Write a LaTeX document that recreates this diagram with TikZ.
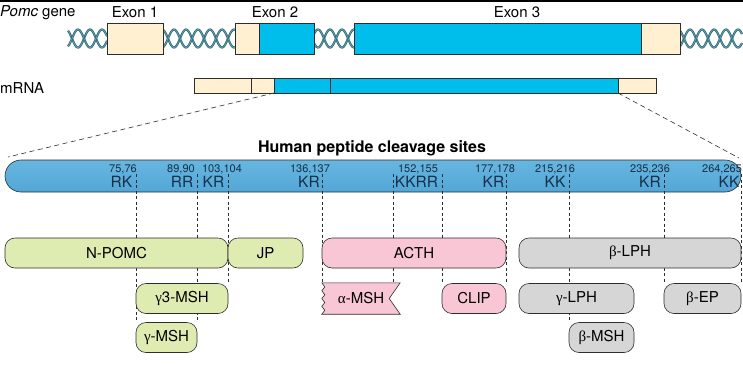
\documentclass[tikz,border=0pt]{standalone}
\usepackage{fontspec}
\setmainfont{TeX Gyre Heros}
\newfontfamily\grk{Liberation Serif}
\usepackage{xcolor}
\usetikzlibrary{positioning,calc}

\definecolor{cream}{RGB}{254,240,208}
\definecolor{exonblue}{RGB}{0,190,236}
\definecolor{helixdk}{RGB}{34,90,104}
\definecolor{helixlt}{RGB}{100,158,172}
\definecolor{greenp}{RGB}{222,236,178}
\definecolor{pinkp}{RGB}{248,198,212}
\definecolor{grayp}{RGB}{214,214,214}
\definecolor{barA}{RGB}{104,182,224}
\definecolor{barB}{RGB}{190,229,246}
\definecolor{barC}{RGB}{82,166,214}
\definecolor{edge}{RGB}{45,45,45}
\definecolor{sitetext}{RGB}{22,48,72}

\pgfdeclarelayer{barlayer}
\pgfdeclarelayer{guidelayer}
\pgfsetlayers{barlayer,guidelayer,main}

\begin{document}
\begin{tikzpicture}[
  x=1pt, y=-1pt,
  lbl/.style={font=\fontsize{15}{18}\selectfont, inner sep=0pt},
  seg/.style={draw=edge, line width=0.6pt, inner sep=0pt, outer sep=0pt},
  strand/.style={draw=helixdk, double=helixlt, double distance=0.9pt, line width=0.6pt},
  pep/.style={draw=edge, line width=0.6pt, rounded corners=10pt, minimum height=30pt, inner sep=0pt, font=\fontsize{15}{18}\selectfont},
  site/.style={font=\fontsize{15.5}{18}\selectfont, text=sitetext, inner sep=0pt, anchor=base},
  num/.style={font=\fontsize{11}{13}\selectfont, text=sitetext, inner sep=0pt, anchor=base},
  guide/.style={draw=edge, dash pattern=on 3pt off 2.5pt, line width=0.5pt},
  zoomline/.style={draw=edge, dash pattern=on 5pt off 3.5pt, line width=0.6pt}
]
\useasboundingbox (0,0) rectangle (743,365);
\fill[black] (0,0) rectangle (743,2);

% gene
\foreach \a/\b in {68/107, 163/235, 314/354, 680/742} {
  \draw[strand] plot[domain=\a:\b, samples=80, smooth] (\x, {38.5+9*sin(15*\x)});
  \draw[strand] plot[domain=\a:\b, samples=80, smooth] (\x, {38.5-9*sin(15*\x)});
}
\node[seg, fill=cream,    minimum width=56pt,  minimum height=31pt] (e1)  at (135,38.5)   {};
\node[seg, fill=cream,    minimum width=24pt,  minimum height=31pt] (e2a) at (247,38.5)   {};
\node[seg, fill=exonblue, minimum width=55pt,  minimum height=31pt] (e2b) at (286.5,38.5) {};
\node[seg, fill=exonblue, minimum width=287pt, minimum height=31pt] (e3a) at (497.5,38.5) {};
\node[seg, fill=cream,    minimum width=39pt,  minimum height=31pt] (e3b) at (660.5,38.5) {};

\node[lbl, anchor=base west] (gene) at (0,16) {\itshape Pomc\upshape{} gene};
\node[lbl, anchor=base] (le1) at (135,17) {Exon 1};
\node[lbl, anchor=base] (le2) at (275,17) {Exon 2};
\node[lbl, anchor=base] (le3) at (517,17) {Exon 3};

% mRNA
\node[lbl, anchor=base west] (mrna) at (0,93) {mRNA};
\node[seg, fill=cream,    minimum width=57pt,  minimum height=15pt] (m1) at (222.5,85.5) {};
\node[seg, fill=cream,    minimum width=23pt,  minimum height=15pt] (m2) at (262.5,85.5) {};
\node[seg, fill=exonblue, minimum width=56pt,  minimum height=15pt] (m3) at (302,85.5)   {};
\node[seg, fill=exonblue, minimum width=288pt, minimum height=15pt] (m4) at (474,85.5)   {};
\node[seg, fill=cream,    minimum width=38pt,  minimum height=15pt] (m5) at (637,85.5)   {};

\coordinate (zl) at (8,157);
\coordinate (zr) at (739,158);
\draw[zoomline] (m3.south west) -- (zl);
\draw[zoomline] (m5.south west) -- (zr);

% precursor with cleavage sites
\begin{pgfonlayer}{barlayer}
\node[draw=edge, line width=0.6pt, rounded corners=16pt, minimum width=736pt, minimum height=32pt,
      top color=barA, middle color=barB, bottom color=barC] (chain) at (373,176) {};
\end{pgfonlayer}
\node[font=\bfseries\fontsize{16}{19}\selectfont, inner sep=0pt, anchor=base] (title) at (372,152) {Human peptide cleavage sites};

\foreach \i/\lx/\lab/\nx/\num in {1/121.5/RK/123/{75,76}, 2/182/RR/181/{89,90}, 3/213.5/KR/222/{103,104},
    4/309/KR/310/{136,137}, 5/416.5/KKRR/418/{152,155}, 6/493.5/KR/495/{177,178},
    7/555/KK/555/{215,216}, 8/650/KR/650/{235,236}, 9/729/KK/722/{264,265}} {
  \node[num]  (n\i) at (\nx,172.5) {\num};
  \node[site] (s\i) at (\lx,187)   {\lab};
}

% peptides
\node[pep, fill=greenp, minimum width=223pt] (npomc) at (116.5,253) {N-POMC};
\node[pep, fill=greenp, minimum width=75pt]  (jp)    at (265.5,253) {JP};
\node[pep, fill=greenp, minimum width=92pt]  (g3msh) at (182,298.5) {{\grk γ}3-MSH};
\node[pep, fill=greenp, minimum width=61pt]  (gmsh)  at (166.5,337.5) {{\grk γ}-MSH};

\node[pep, fill=pinkp, minimum width=184pt] (acth) at (414,253) {ACTH};
\node[pep, fill=pinkp, minimum width=64pt]  (clip) at (474,298.5) {CLIP};
\node[font=\fontsize{15}{18}\selectfont, inner sep=0pt, minimum width=78pt, minimum height=31pt] (amsh) at (361,298.5) {};
\draw[draw=edge, line width=0.6pt, fill=pinkp] (amsh.north west) -- (amsh.north east) -- ([xshift=-11pt]amsh.east)
  -- (amsh.south east) -- (amsh.south west)
  -- ++(3,-3.9) -- ++(-3,-3.9) -- ++(3,-3.9) -- ++(-3,-3.9)
  -- ++(3,-3.9) -- ++(-3,-3.9) -- ++(3,-3.9) -- cycle;
\node[font=\fontsize{15}{18}\selectfont, inner sep=0pt] (amshtext) at (amsh.center) {{\grk α}-MSH};

\node[pep, fill=grayp, minimum width=222pt] (blph) at (630,253)   {{\grk β}-LPH};
\node[pep, fill=grayp, minimum width=115pt] (glph) at (576.5,298.5) {{\grk γ}-LPH};
\node[pep, fill=grayp, minimum width=77pt]  (bep)  at (702.5,298.5) {{\grk β}-EP};
\node[pep, fill=grayp, minimum width=65pt]  (bmsh) at (601.5,337.5) {{\grk β}-MSH};

% cleavage guides
\begin{pgfonlayer}{guidelayer}
\foreach \i/\cx/\tgt in {1/136/gmsh.north, 2/197/gmsh.north, 3/228/g3msh.north, 4/322/amsh.north,
    5/393/amsh.north, 6/442/clip.north, 7/506/clip.north, 8/569/bmsh.north, 9/664/bep.north, 10/741/bep.north} {
  \coordinate (c\i) at (\cx,174);
  \draw[guide] (c\i) -- (c\i |- \tgt);
}
\end{pgfonlayer}

\end{tikzpicture}
\end{document}
